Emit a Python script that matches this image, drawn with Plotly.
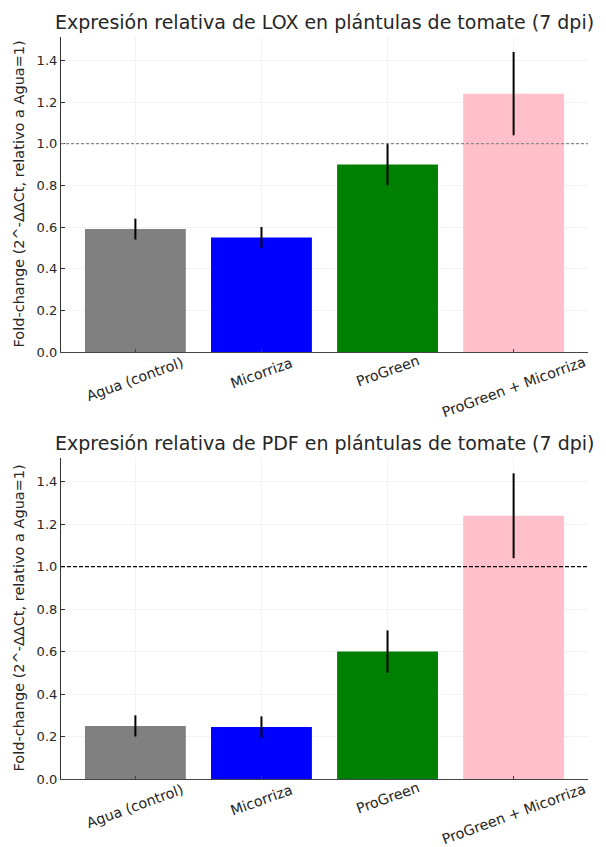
import plotly.graph_objects as go

categories = ["Agua (control)", "Micorriza", "ProGreen", "ProGreen + Micorriza"]
colors = ["#808080", "#0000ff", "#008000", "#ffc0cb"]

lox_values = [0.59, 0.55, 0.90, 1.24]
lox_errors = [0.05, 0.05, 0.10, 0.20]
pdf_values = [0.25, 0.245, 0.60, 1.24]
pdf_errors = [0.05, 0.05, 0.10, 0.20]

titles = ["Expresión relativa de LOX en plántulas de tomate (7 dpi)",
          "Expresión relativa de PDF en plántulas de tomate (7 dpi)"]
ylabel = "Fold-change (2^-ΔΔCt, relativo a Agua=1)"
yticks = [0.0, 0.2, 0.4, 0.6, 0.8, 1.0, 1.2, 1.4]

FONT = "DejaVu Sans"
TXT = "#262626"
LBL_SIZE = 14.3

fig = go.Figure()
xs = list(range(len(categories)))

H, W = 847, 606
ml, mr, mt, mb = 61, W - 588, 37, H - 779
ph = H - mt - mb

def fy(px):
    return 1 - (px - mt) / ph

domains = [[fy(352), 1.0], [0.0, fy(458)]]
title_y = [fy(22), fy(443)]
ref_colors = ["#8a8a8a", "#000000"]
ref_dash = ["3px,2px", "4px,2px"]

for i, (vals, errs) in enumerate([(lox_values, lox_errors), (pdf_values, pdf_errors)]):
    xa = "x" if i == 0 else "x2"
    ya = "y" if i == 0 else "y2"
    fig.add_trace(go.Bar(
        x=xs, y=vals, width=0.8, marker=dict(color=colors, line=dict(width=0)),
        error_y=dict(type="data", array=errs, visible=True, color="black", thickness=2, width=0),
        xaxis=xa, yaxis=ya, showlegend=False))
    axname = "" if i == 0 else "2"
    fig.update_layout(**{
        "xaxis" + axname: dict(domain=[0, 1], range=[-0.59, 3.59], tickvals=xs, ticktext=[""] * 4,
                               ticks="inside", ticklen=3, tickcolor="#444", showline=True,
                               linecolor="#444", linewidth=1.2, showgrid=True, gridcolor="#f3f3f3",
                               zeroline=False, anchor=ya, fixedrange=True),
        "yaxis" + axname: dict(domain=domains[i], range=[0, 1.512], tickvals=yticks,
                               ticktext=[f"{t:.1f}" for t in yticks],
                               ticks="inside", ticklen=4, tickcolor="#333", showline=True,
                               linecolor="#333", linewidth=1.2, showgrid=True, gridcolor="#f3f3f3",
                               zeroline=False, anchor=xa,
                               tickfont=dict(family=FONT, size=13, color=TXT)),
    })
    fig.add_shape(type="line", xref=xa + " domain", yref=ya, x0=0, x1=1, y0=1, y1=1,
                  line=dict(color=ref_colors[i], width=1.2, dash=ref_dash[i]))
    fig.add_annotation(text=titles[i], xref="paper", yref="paper", x=0.5, y=title_y[i],
                       xanchor="center", yanchor="middle", showarrow=False,
                       font=dict(family=FONT, size=19, color=TXT))
    mid = (domains[i][0] + domains[i][1]) / 2
    fig.add_annotation(text=ylabel, xref="paper", yref="paper", x=0, y=mid, xshift=-43,
                       xanchor="center", yanchor="middle", textangle=-90, showarrow=False,
                       font=dict(family=FONT, size=14.5, color=TXT))
    for x, c in zip(xs, categories):
        est_len = len(c) * 0.535 * LBL_SIZE
        half_h = (est_len * 0.342 + 10) / 2
        fig.add_annotation(text=c, xref=xa, yref=ya + " domain", x=x, y=0, yshift=-(4 + half_h),
                           xanchor="center", yanchor="middle", textangle=-20, showarrow=False,
                           font=dict(family=FONT, size=LBL_SIZE, color=TXT))

fig.update_layout(width=W, height=H, margin=dict(l=ml, r=mr, t=mt, b=mb),
                  plot_bgcolor="white", paper_bgcolor="white", bargap=0.2)
fig.write_html("out.html")
